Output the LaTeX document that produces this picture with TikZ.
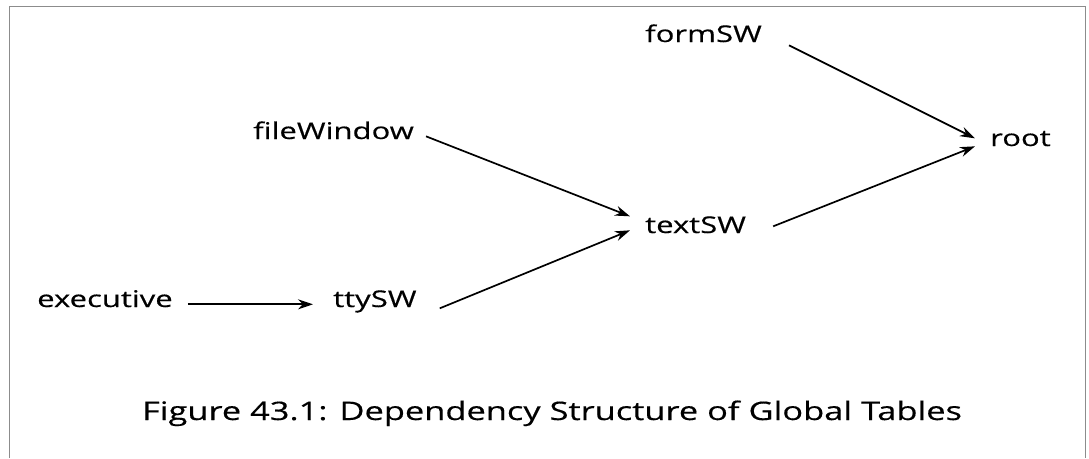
\documentclass[tikz,border=0pt]{standalone}
\usepackage{fontspec}
\setmainfont{Open Sans}[FakeStretch=1.35,FakeBold=0.4]
\usetikzlibrary{arrows.meta}
\begin{document}
\begin{tikzpicture}[x=1pt,y=-1pt,
  lbl/.style={anchor=base west,inner sep=0pt,font=\fontsize{23}{26}\selectfont},
  captext/.style={anchor=base,inner sep=0pt,font=\fontsize{25.5}{29}\selectfont},
  dep/.style={line width=1.7pt,-{Stealth[length=15pt,width=10pt]}},
  frame/.style={draw=black!45,line width=0.7pt}]
\useasboundingbox (0,0) rectangle (1089,458);
\draw[frame] (9,458) -- (9,6) -- (1085,6) -- (1085,458);
\node[lbl] (formSW) at (645,42) {formSW};
\node[lbl] (fileWindow) at (253,139) {fileWindow};
\node[lbl] (root) at (990,146) {root};
\node[lbl] (textSW) at (645,233) {textSW};
\node[lbl] (executive) at (37,307) {executive};
\node[lbl] (ttySW) at (333,307) {ttySW};
\node[captext] (caption) at (552,420) {Figure 43.1: Dependency Structure of Global Tables};
\draw[dep] ([xshift=15pt]executive.mid east) -- ([xshift=-20pt]ttySW.mid west);
\draw[dep] ([xshift=23pt,yshift=-4pt]ttySW.mid east) -- ([xshift=-15pt]textSW.mid west);
\draw[dep] ([xshift=12pt]fileWindow.mid east) -- ([xshift=-15pt,yshift=14pt]textSW.mid west);
\draw[dep] ([xshift=27pt,yshift=4pt]textSW.mid east) -- ([xshift=-15pt,yshift=-3pt]root.mid west);
\draw[dep] ([xshift=27pt,yshift=-6pt]formSW.mid east) -- ([xshift=-15pt,yshift=5pt]root.mid west);
\end{tikzpicture}
\end{document}
